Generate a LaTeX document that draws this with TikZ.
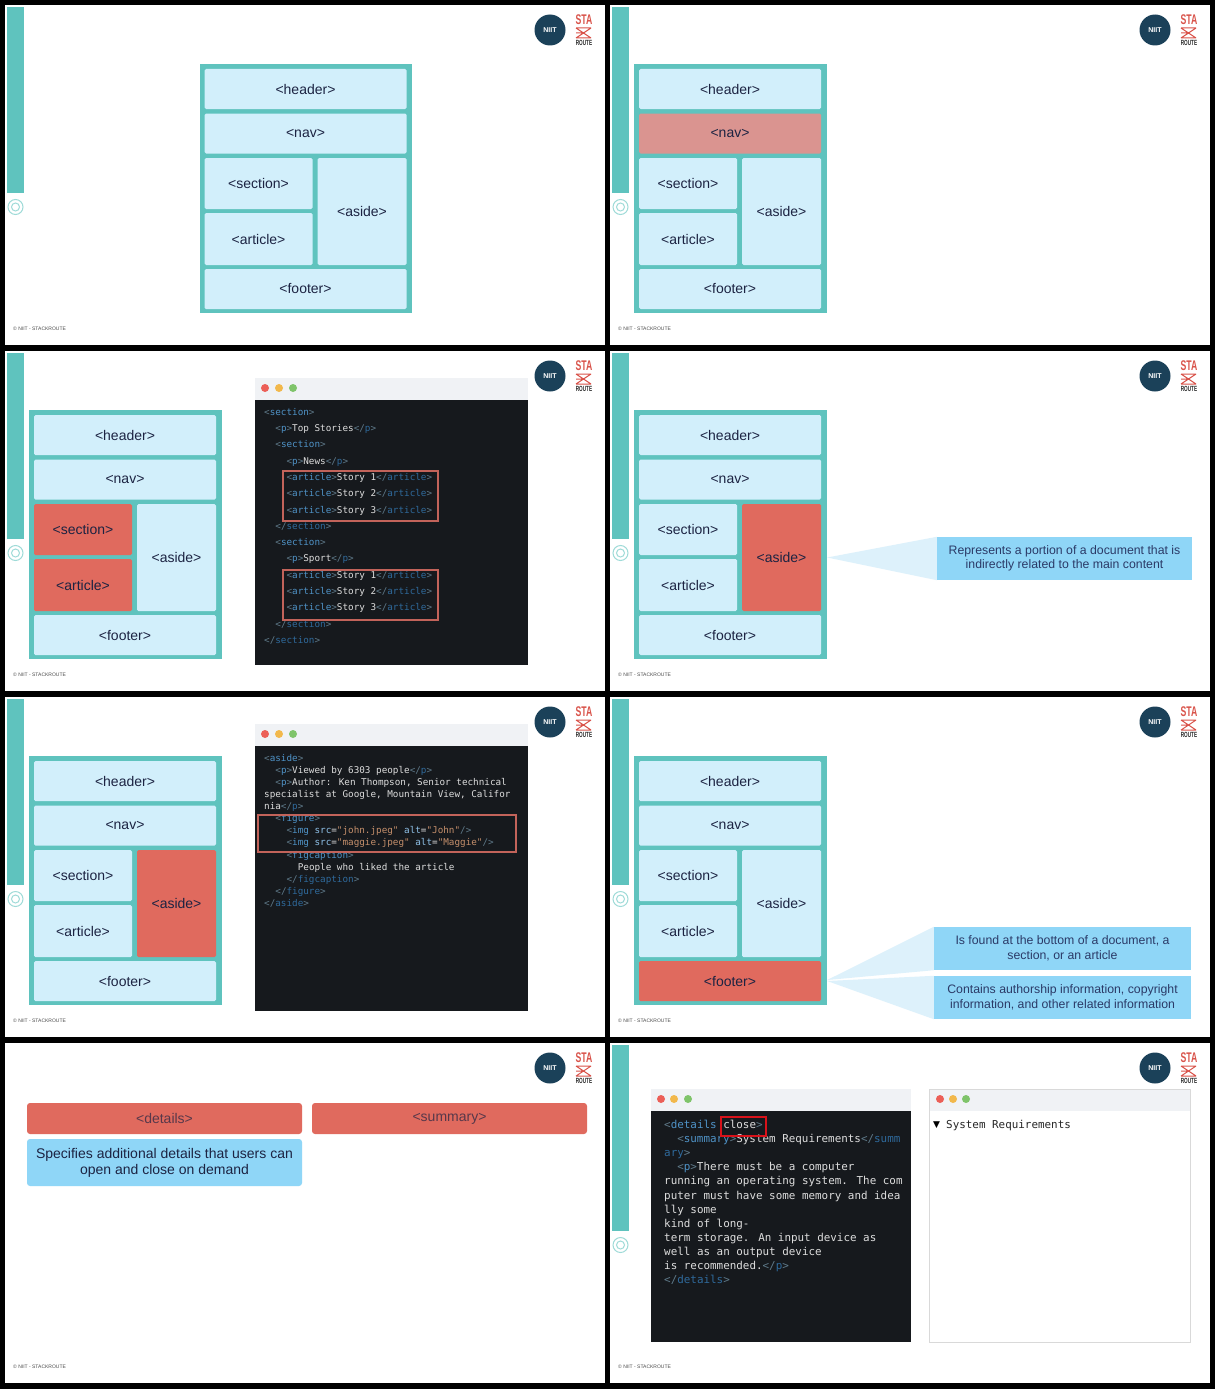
\documentclass[tikz,border=0pt]{standalone}
\usepackage{fontspec}
\setmainfont{Liberation Sans}
\newfontfamily\codefont{DejaVu Sans Mono}
\newfontfamily\symfont{DejaVu Sans}
\definecolor{teal1}{HTML}{5FC3BE}
\definecolor{boxblue}{HTML}{D2EFFB}
\definecolor{hotred}{HTML}{E06A5E}
\definecolor{pinkred}{HTML}{DA9490}
\definecolor{inktext}{HTML}{1C2342}
\definecolor{call}{HTML}{8FD6F7}
\definecolor{callpale}{HTML}{DDF1FB}
\definecolor{calltext}{HTML}{2B3A67}
\definecolor{logoblue}{HTML}{1B4159}
\definecolor{logored}{HTML}{D9534A}
\definecolor{codebg}{HTML}{16191D}
\definecolor{barbg}{HTML}{F0F2F5}
\definecolor{tagdim}{HTML}{5F7A8A}
\definecolor{tagblue}{HTML}{4F93C7}
\definecolor{tagend}{HTML}{2F6A9C}
\definecolor{codewhite}{HTML}{DDDDDD}
\definecolor{strorange}{HTML}{C58F6B}
\definecolor{attrblue}{HTML}{8FC1E8}
\definecolor{markred}{HTML}{C2635A}
\definecolor{markbright}{HTML}{D8121A}
\definecolor{dotred}{HTML}{EC5F57}
\definecolor{dotyel}{HTML}{F2B84B}
\definecolor{dotgrn}{HTML}{7FC46A}
\tikzset{
  slide/.style={fill=white,draw=none},
  wbox/.style={draw=none,rounded corners=1.5pt,inner sep=0pt,text=inktext,font=\fontsize{14}{16}\selectfont},
  calloutbox/.style={fill=call,draw=none,inner sep=0pt,text=calltext,align=center,font=\fontsize{12.3}{14.6}\selectfont},
  codewin/.style={fill=codebg,draw=none},
  codebar/.style={fill=barbg,draw=none},
  codetext/.style={inner sep=0pt,text=codewhite,align=left,anchor=north west},
  credit/.style={inner sep=0pt,anchor=west,text=black!70,font=\fontsize{5}{6}\selectfont},
}
\newcommand{\tg}[1]{\textcolor{tagdim}{<}\textcolor{tagblue}{#1}\textcolor{tagdim}{>}}
\newcommand{\tgo}[1]{\textcolor{tagdim}{<}\textcolor{tagblue}{#1}}
\newcommand{\closeb}{\textcolor{tagdim}{>}}
\newcommand{\tge}[1]{\textcolor{tagdim}{</}\textcolor{tagend}{#1}\textcolor{tagdim}{>}}
\newcommand{\ind}[1]{\hspace*{#1pt}}
\newcommand{\strv}[1]{\textcolor{strorange}{#1}}
\newcommand{\attr}[1]{\textcolor{attrblue}{#1}}
\newcommand{\chrome}[4][1]{%
  \fill[slide] (#3,#4) rectangle ++(600,340);
  \ifnum#1=1
    \fill[teal1] (#3+2,#4+2) rectangle ++(17,186);
    \draw[teal1!60,line width=1pt] (#3+10.5,#4+202) circle (7.5);
    \draw[teal1!60,line width=1pt] (#3+10.5,#4+202) circle (4);
  \fi
  \node[circle,fill=logoblue,minimum size=31pt,inner sep=0pt,text=white,font=\bfseries\fontsize{7}{8}\selectfont] (#2logo) at (#3+545,#4+25) {NIIT};
  \node[inner sep=0pt,text=logored,font=\bfseries\fontsize{14}{14}\selectfont] (#2sta) at (#3+579,#4+15) {\scalebox{.62}[1]{STA}};
  \draw[logored,line width=1pt] (#3+571,#4+23) -- (#3+586,#4+23) (#3+571,#4+33) -- (#3+586,#4+33) (#3+571,#4+23) -- (#3+586,#4+33) (#3+571,#4+33) -- (#3+586,#4+23) (#3+571,#4+28) -- (#3+577,#4+28);
  \node[inner sep=0pt,text=black!85,font=\bfseries\fontsize{7.5}{8}\selectfont] (#2route) at (#3+579,#4+37.5) {\scalebox{.62}[1]{ROUTE}};
  \node[credit] (#2credit) at (#3+8,#4+324) {© NIIT - STACKROUTE};
}
\newcommand{\wframe}[9]{%
  \fill[teal1] (#2,#3+64) rectangle ++(#4+10.5,249);
  \node[wbox,fill=boxblue,minimum width=#4pt,minimum height=40pt] (#1hdr) at (#2+5+#4/2,#3+89) {<header>};
  \node[wbox,fill=#6,minimum width=#4pt,minimum height=40pt] (#1nav) at (#2+5+#4/2,#3+133.5) {<nav>};
  \node[wbox,fill=#7,minimum width=#5pt,minimum height=51pt] (#1sec) at (#2+5+#5/2,#3+183.5) {<section>};
  \node[wbox,fill=#7,minimum width=#5pt,minimum height=52pt] (#1art) at (#2+5+#5/2,#3+239) {<article>};
  \node[wbox,fill=#8,minimum width=#4pt-#5pt-5pt,minimum height=107pt] (#1asi) at (#2+5+#4/2+#5/2+2.5,#3+211.5) {<aside>};
  \node[wbox,fill=#9,minimum width=#4pt,minimum height=40pt] (#1ftr) at (#2+5+#4/2,#3+289) {<footer>};
}
\begin{document}
\begin{tikzpicture}[x=1pt,y=-1pt]
\useasboundingbox (0,0) rectangle (1215,1389);
\fill[black] (0,0) rectangle (1215,1389);
% slides
\chrome{a}{5}{5}
\chrome{b}{610}{5}
\chrome{c}{5}{351}
\chrome{d}{610}{351}
\chrome{e}{5}{697}
\chrome{f}{610}{697}
\chrome[0]{g}{5}{1043}
\chrome{h}{610}{1043}
% wireframes
\wframe{a}{199.5}{0}{202}{108}{boxblue}{boxblue}{boxblue}{boxblue}
\wframe{b}{634}{0}{182}{98}{pinkred}{boxblue}{boxblue}{boxblue}
\wframe{c}{29}{346}{182}{98}{boxblue}{hotred}{boxblue}{boxblue}
\wframe{d}{634}{346}{182}{98}{boxblue}{boxblue}{hotred}{boxblue}
\wframe{e}{29}{692}{182}{98}{boxblue}{boxblue}{hotred}{boxblue}
\wframe{f}{634}{692}{182}{98}{boxblue}{boxblue}{boxblue}{hotred}
% code slide 3
\fill[codebar] (255,378) rectangle (528,400);
\fill[codewin] (255,400) rectangle (528,665);
\fill[dotred] (265,388) circle (4);
\fill[dotyel] (279,388) circle (4);
\fill[dotgrn] (293,388) circle (4);
\node[codetext,font=\codefont\fontsize{9.3}{16.3}\selectfont] (ccode) at (264,408) {%
\tg{section}\\
\ind{11.2}\tg{p}Top Stories\tge{p}\\
\ind{11.2}\tg{section}\\
\ind{22.4}\tg{p}News\tge{p}\\
\ind{22.4}\tg{article}Story 1\tge{article}\\
\ind{22.4}\tg{article}Story 2\tge{article}\\
\ind{22.4}\tg{article}Story 3\tge{article}\\
\ind{11.2}\tge{section}\\
\ind{11.2}\tg{section}\\
\ind{22.4}\tg{p}Sport\tge{p}\\
\ind{22.4}\tg{article}Story 1\tge{article}\\
\ind{22.4}\tg{article}Story 2\tge{article}\\
\ind{22.4}\tg{article}Story 3\tge{article}\\
\ind{11.2}\tge{section}\\
\tge{section}};
\draw[markred,line width=1.1pt] (283,471) rectangle (438,521);
\draw[markred,line width=1.1pt] (283,570) rectangle (438,620);
% slide 4 callout
\node[calloutbox,minimum width=255pt,minimum height=43pt] (dcall) at (1064.5,558.5) {Represents a portion of a document that is\\indirectly related to the main content};
\fill[callpale] (dasi.east) ++(6,0) -- (dcall.north west) -- (dcall.south west) -- cycle;
% code slide 5
\fill[codebar] (255,724) rectangle (528,746);
\fill[codewin] (255,746) rectangle (528,1011);
\fill[dotred] (265,734) circle (4);
\fill[dotyel] (279,734) circle (4);
\fill[dotgrn] (293,734) circle (4);
\node[codetext,font=\codefont\fontsize{9.3}{12.1}\selectfont] (ecode) at (264,754) {%
\tg{aside}\\
\ind{11.2}\tg{p}Viewed by 6303 people\tge{p}\\
\ind{11.2}\tg{p}Author: Ken Thompson, Senior technical\\
specialist at Google, Mountain View, Califor\\
nia\tge{p}\\
\ind{11.2}\tg{figure}\\
\ind{22.4}\tgo{img} \attr{src}=\strv{"john.jpeg"} \attr{alt}=\strv{"John"}\textcolor{tagdim}{/>}\\
\ind{22.4}\tgo{img} \attr{src}=\strv{"maggie.jpeg"} \attr{alt}=\strv{"Maggie"}\textcolor{tagdim}{/>}\\
\ind{22.4}\tg{figcaption}\\
\ind{33.6}People who liked the article\\
\ind{22.4}\tge{figcaption}\\
\ind{11.2}\tge{figure}\\
\tge{aside}};
\draw[markred,line width=1.1pt] (258,815) rectangle (516,852);
% slide 6 callouts
\node[calloutbox,minimum width=257pt,minimum height=43pt] (fcalla) at (1062.5,948.5) {Is found at the bottom of a document, a\\section, or an article};
\node[calloutbox,minimum width=257pt,minimum height=43pt] (fcallb) at (1062.5,997.5) {Contains authorship information, copyright\\information, and other related information};
\fill[callpale] (fftr.east) ++(6,-1) -- (fcalla.north west) -- (fcalla.south west) -- cycle;
\fill[callpale] (fftr.east) ++(6,0) -- (fcallb.north west) -- (fcallb.south west) -- cycle;
% slide 7
\node[wbox,fill=hotred,text=inktext!70!hotred,minimum width=275pt,minimum height=31pt,rounded corners=3pt] (gdet) at (164.5,1118.5) {<details>};
\node[wbox,fill=hotred,text=inktext!70!hotred,minimum width=275pt,minimum height=31pt,rounded corners=3pt] (gsum) at (449.5,1118.5) {<summary>};
\node[wbox,fill=call,align=center,rounded corners=3pt,minimum width=275pt,minimum height=47pt] (gtxt) at (164.5,1162.5) {Specifies additional details that users can\\open and close on demand};
% slide 8
\fill[codebar] (651,1089) rectangle (911,1111);
\fill[codewin] (651,1111) rectangle (911,1342);
\fill[dotred] (661,1099) circle (4);
\fill[dotyel] (674,1099) circle (4);
\fill[dotgrn] (688,1099) circle (4);
\node[codetext,font=\codefont\fontsize{10.9}{14.1}\selectfont] (hcode) at (664,1120) {%
\tgo{details} close\closeb\\
\ind{13.1}\tg{summary}System Requirements\textcolor{tagdim}{</}\textcolor{tagend}{summ}\\
\textcolor{tagend}{ary}\closeb\\
\ind{13.1}\tg{p}There must be a computer\\
running an operating system. The com\\
puter must have some memory and idea\\
lly some\\
kind of long-\\
term storage. An input device as\\
well as an output device\\
is recommended.\tge{p}\\
\tge{details}};
\draw[markbright,line width=2pt] (721,1117) rectangle (766,1136);
\fill[codebar] (929,1089) rectangle (1190,1111);
\draw[black!15,line width=.6pt] (929,1089) rectangle (1190,1342);
\fill[dotred] (940,1099) circle (4);
\fill[dotyel] (953,1099) circle (4);
\fill[dotgrn] (966,1099) circle (4);
\node[inner sep=0pt,anchor=west,text=black,font=\symfont\fontsize{9}{10}\selectfont] (harrow) at (933,1125) {▼};
\node[inner sep=0pt,anchor=west,text=black!85,font=\codefont\fontsize{10.9}{13}\selectfont] (hsys) at (946,1125.5) {System Requirements};
\end{tikzpicture}
\end{document}
